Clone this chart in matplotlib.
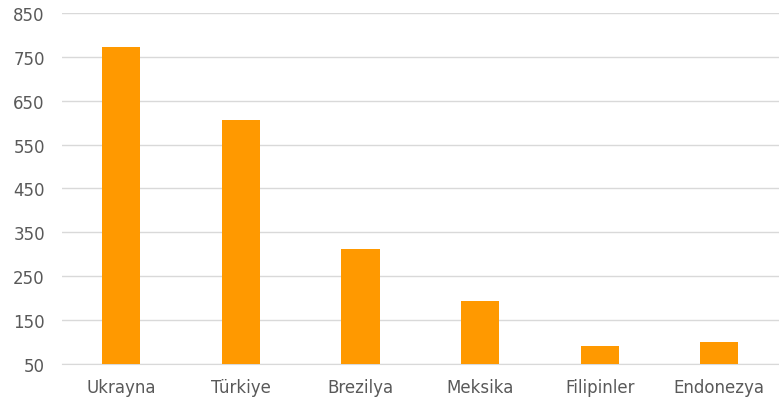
import matplotlib.pyplot as plt
import numpy as np

# data
countries = ["Ukrayna", "Türkiye", "Brezilya", "Meksika", "Filipinler", "Endonezya"]
values = [773, 606, 312, 194, 91, 101]
yticks = [50, 150, 250, 350, 450, 550, 650, 750, 850]

plt.rcParams['font.family'] = ['DejaVu Sans']

fig = plt.figure(figsize=(7.79, 4.06), dpi=100)
ax = fig.add_axes([0.079, 0.101, 0.921, 0.865])

x = np.arange(len(countries))
ax.bar(x, np.array(values) - 50, bottom=50, width=0.32, color="#FF9900", zorder=3)

ax.set_ylim(50, 850)
ax.set_xlim(-0.5, len(countries) - 0.5)
ax.set_yticks(yticks)
ax.set_xticks(x)
ax.set_xticklabels(countries)
ax.grid(axis="y", color="#D9D9D9", linewidth=1, zorder=0)
for s in ["top", "right", "left"]:
    ax.spines[s].set_visible(False)
ax.spines["bottom"].set_color("#D9D9D9")
ax.tick_params(axis="both", length=0, colors="#595959", labelsize=12)
ax.tick_params(axis="x", pad=10)
ax.tick_params(axis="y", pad=12)

plt.savefig("out.png", dpi=100)
